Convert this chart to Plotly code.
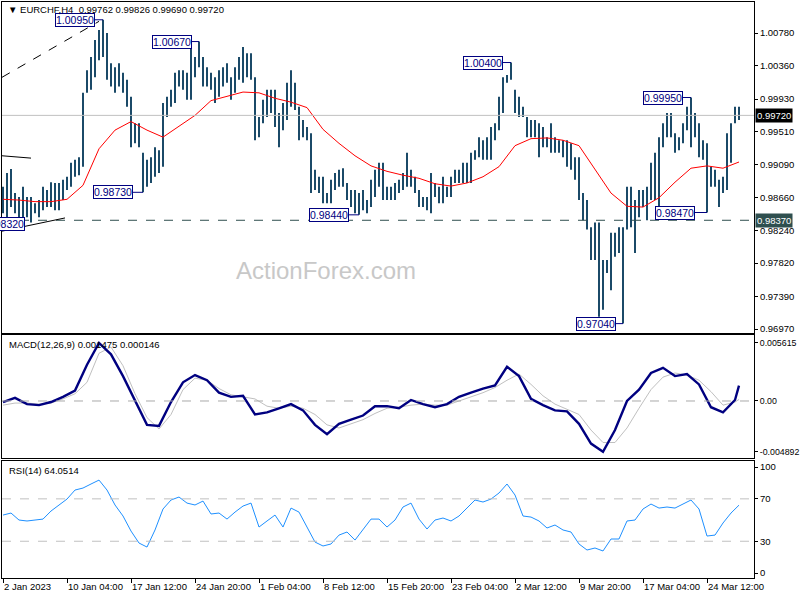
import plotly.graph_objects as go

# ---------------- data (each bar = 8 hours of H4 data) ----------------
highs = [0.9880,0.9898,0.9903,0.9872,0.9867,0.9880,0.9867,0.9867,0.9859,0.9863,
         0.9880,0.9876,0.9886,0.9885,0.9885,0.9889,0.9893,0.9911,0.9915,0.9918,
         1.0001,1.0030,1.0047,1.0069,1.0082,1.0095,1.0078,1.0039,1.0034,1.0039,
         1.0027,1.0018,0.9996,0.9962,0.9962,0.9924,0.9915,0.9918,0.9931,0.9927,
         0.9988,0.9996,1.0005,1.0027,1.0030,1.0030,1.0027,1.0060,1.0047,1.0067,
         1.0047,1.0034,1.0027,1.0021,1.0030,1.0034,1.0039,1.0021,1.0034,1.0047,
         1.0060,1.0052,1.0052,1.0021,0.9970,0.9992,1.0005,1.0005,1.0005,0.9975,
         0.9988,1.0014,1.0030,1.0014,0.9983,0.9966,0.9957,0.9949,0.9902,0.9893,
         0.9893,0.9872,0.9889,0.9898,0.9902,0.9904,0.9885,0.9876,0.9876,0.9872,
         0.9876,0.9863,0.9889,0.9902,0.9911,0.9911,0.9880,0.9880,0.9885,0.9889,
         0.9898,0.9924,0.9902,0.9893,0.9876,0.9867,0.9867,0.9898,0.9885,0.9880,
         0.9893,0.9880,0.9893,0.9902,0.9902,0.9911,0.9911,0.9924,0.9927,0.9944,
         0.9940,0.9944,0.9957,0.9962,0.9996,1.0021,1.0024,1.0040,1.0005,0.9996,
         0.9983,0.9970,0.9966,0.9966,0.9962,0.9957,0.9944,0.9962,0.9944,0.9940,
         0.9940,0.9940,0.9936,0.9918,0.9918,0.9872,0.9863,0.9828,0.9834,0.9834,
         0.9786,0.9786,0.9821,0.9821,0.9828,0.9828,0.9880,0.9880,0.9863,0.9876,
         0.9876,0.9880,0.9911,0.9924,0.9944,0.9962,0.9975,0.9975,0.9949,0.9944,
         0.9962,0.9983,0.9995,0.9975,0.9962,0.9940,0.9936,0.9906,0.9902,0.9889,
         0.9893,0.9949,0.9962,0.9983,0.9983]
lows = [0.9846,0.9837,0.9854,0.9846,0.9832,0.9837,0.9841,0.9834,0.9846,0.9841,
        0.9850,0.9854,0.9854,0.9850,0.9850,0.9863,0.9876,0.9880,0.9893,0.9895,
        0.9906,1.0001,1.0005,1.0021,1.0043,1.0047,1.0018,1.0009,1.0001,1.0009,
        1.0001,0.9983,0.9931,0.9936,0.9931,0.9873,0.9880,0.9885,0.9893,0.9898,
        0.9906,0.9970,0.9983,0.9988,1.0009,1.0005,0.9992,0.9992,1.0021,1.0034,
        1.0009,1.0009,1.0005,0.9988,0.9996,1.0009,1.0014,0.9992,1.0001,1.0018,
        1.0014,1.0021,1.0018,0.9940,0.9944,0.9962,0.9970,0.9975,0.9957,0.9931,
        0.9953,0.9966,0.9983,0.9979,0.9940,0.9944,0.9940,0.9872,0.9876,0.9872,
        0.9859,0.9859,0.9859,0.9876,0.9880,0.9880,0.9863,0.9854,0.9846,0.9844,
        0.9850,0.9846,0.9854,0.9867,0.9880,0.9863,0.9863,0.9863,0.9863,0.9872,
        0.9876,0.9880,0.9880,0.9872,0.9854,0.9854,0.9850,0.9846,0.9867,0.9859,
        0.9859,0.9867,0.9867,0.9885,0.9885,0.9885,0.9885,0.9885,0.9915,0.9918,
        0.9915,0.9915,0.9915,0.9940,0.9953,0.9975,1.0014,1.0018,0.9975,0.9970,
        0.9970,0.9944,0.9944,0.9944,0.9918,0.9931,0.9931,0.9924,0.9924,0.9924,
        0.9918,0.9906,0.9902,0.9889,0.9863,0.9837,0.9825,0.9786,0.9786,0.9713,
        0.9722,0.9769,0.9747,0.9790,0.9795,0.9704,0.9825,0.9828,0.9795,0.9841,
        0.9854,0.9837,0.9863,0.9863,0.9854,0.9931,0.9944,0.9944,0.9924,0.9927,
        0.9936,0.9953,0.9931,0.9944,0.9918,0.9915,0.9847,0.9880,0.9880,0.9854,
        0.9872,0.9876,0.9911,0.9962,0.9966]

ma_values = [0.9864,0.9863,0.9861,0.9861,0.9864,0.9882,0.9929,0.9953,0.9964,0.9953,
             0.9944,0.9958,0.9972,0.9991,0.9996,1.0002,1.0001,0.9994,0.9989,0.9982,
             0.9954,0.9936,0.9920,0.9907,0.9900,0.9895,0.9891,0.9884,0.9881,0.9885,
             0.9893,0.9906,0.9933,0.9942,0.9943,0.9940,0.9933,0.9903,0.9872,0.9855,
             0.9854,0.9866,0.9886,0.9904,0.9907,0.9904,0.9912]

macd_main = [-0.0001,0.0003,-0.0003,-0.0004,-0.0001,0.0004,0.0010,0.0035,0.0056,0.0045,
             0.0024,0.0001,-0.0023,-0.0024,-0.0001,0.0018,0.0025,0.0020,0.0008,0.0004,
             0.0005,-0.0013,-0.0011,-0.0007,-0.0003,-0.0009,-0.0023,-0.0032,-0.0022,-0.0018,
             -0.0014,-0.0005,-0.0005,-0.0007,0.0001,-0.0003,-0.0006,-0.0003,0.0004,0.0008,
             0.0012,0.0015,0.0033,0.0024,0.0002,-0.0004,-0.0009,-0.0010,-0.0022,-0.0041,
             -0.0049,-0.0028,0.0000,0.0011,0.0027,0.0032,0.0024,0.0026,0.0016,-0.0006,
             -0.0011,0.0001,0.001475]
macd_signal = [-0.0004,-0.0002,-0.0002,-0.0003,-0.0002,0.0002,0.0007,0.0018,0.0046,0.0052,
               0.0034,0.0007,-0.0016,-0.0027,-0.0013,0.0011,0.0022,0.0020,0.0012,0.0006,
               0.0004,0.0002,-0.0005,-0.0007,-0.0005,-0.0007,-0.0013,-0.0023,-0.0026,-0.0022,
               -0.0018,-0.0012,-0.0007,-0.0006,-0.0004,-0.0003,-0.0004,-0.0004,0.0000,0.0004,
               0.0008,0.0013,0.0020,0.0026,0.0016,0.0005,-0.0003,-0.0008,-0.0013,-0.0028,
               -0.0040,-0.0040,-0.0026,-0.0007,0.0011,0.0023,0.0027,0.0025,0.0020,0.0009,
               -0.0004,-0.0001,0.000146]
rsi_values = [54.7,56.6,50.0,49.1,50.0,50.9,58.5,64.2,69.8,78.3,
              80.2,84.0,87.7,78.3,64.2,53.8,39.6,28.3,24.5,40.6,
              60.4,68.9,71.7,66.0,64.2,67.9,55.7,56.6,50.9,57.5,
              63.2,66.0,43.4,49.1,54.7,43.4,61.3,57.5,43.4,29.2,
              25.5,27.4,35.8,38.7,31.1,41.5,50.9,50.9,43.4,50.0,
              62.3,66.0,50.9,41.5,50.0,51.9,49.1,53.8,61.3,68.9,
              67.0,69.8,75.5,84.0,73.6,53.8,52.8,49.1,42.5,45.3,
              40.6,38.7,27.4,21.7,23.6,20.8,32.1,32.1,49.1,50.0,
              60.4,65.1,61.3,62.3,61.3,65.1,68.9,60.4,34.9,35.8,
              47.2,56.6,64.0514]

x_labels = ["2 Jan 2023","10 Jan 04:00","17 Jan 12:00","24 Jan 20:00","1 Feb 04:00",
            "8 Feb 12:00","15 Feb 20:00","23 Feb 04:00","2 Mar 12:00","9 Mar 20:00",
            "17 Mar 04:00","24 Mar 12:00"]
price_ticks = [1.00780,1.00360,0.99930,0.99510,0.99090,0.98660,0.98240,0.97820,0.97390,0.96970]

# swing labels: (text, price, box right edge index, bar index)
swing_labels = [("1.00950",1.0095,23,25),("1.00670",1.0067,47.25,49),("0.98730",0.9873,32.5,35),
                ("0.98440",0.9844,86.5,89),("1.00400",1.0040,125,127),("0.97040",0.9704,153.25,155),
                ("0.99950",0.9995,170,172),("0.98470",0.9847,173,176),("0.98320",0.9832,5.5,4)]
trend_dashed = ([-0.25,24],[1.0021,1.0093])
trend_solid1 = ([-0.25,7],[0.9920,0.9917])
trend_solid2 = ([-0.25,15.5],[0.9823,0.9840])
current_price = 0.99720
support_level = 0.98370

# ---------------- figure ----------------
FONT = "Tahoma, Liberation Sans, Arial, sans-serif"
BAR = "#1b4a68"
idx = list(range(len(highs)))
ma_idx = list(range(0, len(highs), 4))
ind_idx = list(range(0, 184, 3)) + [184]
rsi_idx = list(range(0, len(highs), 2))

fig = go.Figure()
fig.add_trace(go.Bar(x=idx, y=[h - l for h, l in zip(highs, lows)], base=lows, width=0.42,
                     marker=dict(color=BAR, line=dict(width=0)), xaxis="x", yaxis="y"))
fig.add_trace(go.Scatter(x=ma_idx, y=ma_values, mode="lines", line=dict(color="#ff0000", width=1),
                         xaxis="x", yaxis="y"))
fig.add_trace(go.Scatter(x=ind_idx, y=macd_signal, mode="lines", line=dict(color="#c0c0c0", width=1),
                         xaxis="x2", yaxis="y2"))
fig.add_trace(go.Scatter(x=ind_idx, y=macd_main, mode="lines", line=dict(color="#000080", width=2.4),
                         xaxis="x2", yaxis="y2"))
fig.add_trace(go.Scatter(x=rsi_idx, y=rsi_values, mode="lines", line=dict(color="#1e90ff", width=1),
                         xaxis="x3", yaxis="y3"))

xr = [-0.25, 187.75]
common_x = dict(range=xr, showgrid=False, zeroline=False, showline=True, mirror=True,
                linecolor="black", linewidth=1, automargin=False, tickangle=0)
common_y = dict(showgrid=False, zeroline=False, showline=True, mirror=True, linecolor="black",
                linewidth=1, side="right", ticks="outside", ticklen=3, tickcolor="black",
                automargin=False)
tick_font = dict(family=FONT, size=9.5, color="black")

fig.update_layout(
    width=800, height=600, showlegend=False,
    margin=dict(l=2, r=46, t=2, b=22, autoexpand=False),
    paper_bgcolor="white", plot_bgcolor="white",
    font=dict(family=FONT, size=10, color="black"),
    xaxis=dict(anchor="y", showticklabels=False, **common_x),
    yaxis=dict(anchor="x", domain=[0.4253, 1], range=[0.96919, 1.01179], tickfont=tick_font,
               tickvals=price_ticks, ticktext=[f"{v:.5f}" for v in price_ticks], **common_y),
    xaxis2=dict(anchor="y2", showticklabels=False, matches="x", **common_x),
    yaxis2=dict(anchor="x2", domain=[0.2083, 0.4219], range=[-0.005495, 0.006362],
                tickfont=dict(family=FONT, size=8.8, color="black"),
                tickvals=[0.005615, 0, -0.004892], ticktext=["0.005615", "0.00", "-0.004892"], **common_y),
    xaxis3=dict(anchor="y3", matches="x", tickvals=list(range(0, 16 * len(x_labels), 16)),
                ticktext=x_labels, ticks="outside", ticklen=4, tickcolor="black",
                ticklabelposition="outside right", tickfont=tick_font, **common_x),
    yaxis3=dict(anchor="x3", domain=[0, 0.2031], range=[-4.7, 105.7], tickfont=tick_font,
                tickvals=[100, 70, 30, 0], ticktext=["100", "70", "30", "0"], **common_y),
)

shapes = []
shapes.append(dict(type="line", xref="x domain", yref="y", x0=0, x1=1, y0=current_price, y1=current_price,
                   line=dict(color="#c0c0c0", width=1)))
shapes.append(dict(type="line", xref="x domain", yref="y", x0=0, x1=1, y0=support_level, y1=support_level,
                   line=dict(color="#2f4f4f", width=1, dash="dash")))
shapes.append(dict(type="line", xref="x", yref="y", x0=trend_dashed[0][0], x1=trend_dashed[0][1],
                   y0=trend_dashed[1][0], y1=trend_dashed[1][1], line=dict(color="black", width=1, dash="dash")))
for tl in (trend_solid1, trend_solid2):
    shapes.append(dict(type="line", xref="x", yref="y", x0=tl[0][0], x1=tl[0][1], y0=tl[1][0], y1=tl[1][1],
                       line=dict(color="black", width=1)))
shapes.append(dict(type="line", xref="x2 domain", yref="y2", x0=0, x1=1, y0=0, y1=0,
                   line=dict(color="#a9a9a9", width=1, dash="dash")))
for lvl in (70, 30):
    shapes.append(dict(type="line", xref="x3 domain", yref="y3", x0=0, x1=1, y0=lvl, y1=lvl,
                       line=dict(color="#c0c0c0", width=1, dash="dash")))
for text, price, right, bar in swing_labels:
    if bar > right:
        shapes.append(dict(type="line", xref="x", yref="y", x0=right, x1=bar, y0=price, y1=price,
                           line=dict(color="#000080", width=1)))
fig.update_layout(shapes=shapes)

ann = []
for text, price, right, bar in swing_labels:
    ann.append(dict(xref="x", yref="y", x=right, y=price, xanchor="right", yanchor="middle",
                    text=text, showarrow=False, bgcolor="white", bordercolor="#000080", borderwidth=1,
                    borderpad=0, font=dict(family=FONT, size=10.5, color="#000080")))
ann.append(dict(xref="paper", yref="y", x=1, y=current_price, xanchor="left", yanchor="middle", xshift=1,
                text=f"{current_price:.5f}", showarrow=False, bgcolor="black", borderpad=1,
                font=dict(family=FONT, size=9.5, color="white")))
ann.append(dict(xref="paper", yref="y", x=1, y=support_level, xanchor="left", yanchor="middle", xshift=1,
                text=f"{support_level:.5f}", showarrow=False, bgcolor="#2f4f4f", borderpad=1,
                font=dict(family=FONT, size=9.5, color="white")))
ann.append(dict(xref="paper", yref="paper", x=0, y=1, xanchor="left", yanchor="top", xshift=4, yshift=0,
                text="▼ EURCHF,H4  0.99762 0.99826 0.99690 0.99720", showarrow=False,
                font=dict(family=FONT, size=9.5, color="black")))
ann.append(dict(xref="paper", yref="y2 domain", x=0, y=1, xanchor="left", yanchor="top", xshift=5, yshift=-2,
                text="MACD(12,26,9) 0.001475 0.000146", showarrow=False,
                font=dict(family=FONT, size=9.5, color="black")))
ann.append(dict(xref="paper", yref="y3 domain", x=0, y=1, xanchor="left", yanchor="top", xshift=5, yshift=-2,
                text="RSI(14) 64.0514", showarrow=False,
                font=dict(family=FONT, size=9.5, color="black")))
ann.append(dict(xref="x", yref="y", x=80.75, y=0.9773, text="ActionForex.com", showarrow=False,
                font=dict(family="Liberation Sans, Arial, sans-serif", size=24, color="#c8c8c8")))
fig.update_layout(annotations=ann)

fig.write_html("out.html", config={"displayModeBar": False},
               post_script="document.body.style.margin='0';document.body.style.overflow='hidden';")
